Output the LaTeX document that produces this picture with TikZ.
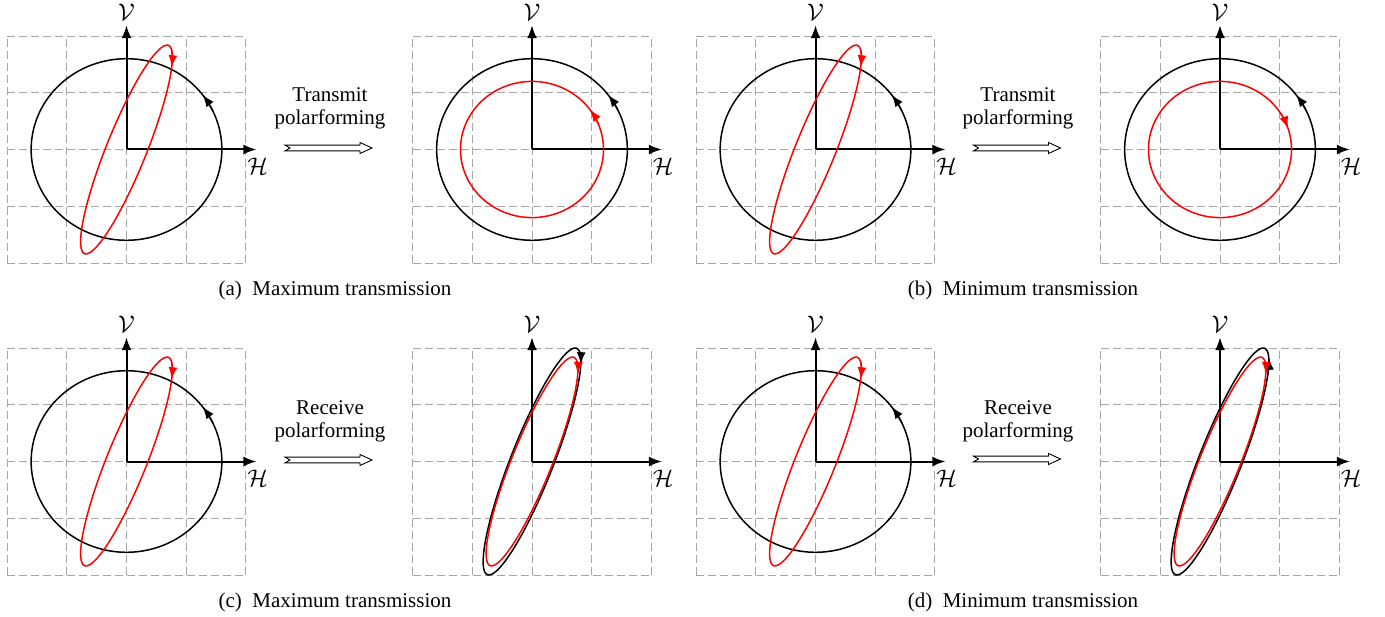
\documentclass[tikz,border=0pt]{standalone}
\usepackage{fontspec}
\setmainfont{Liberation Serif}
\usetikzlibrary{arrows.meta}
\tikzset{
  gridline/.style={gray!70, dash pattern=on 4pt off 2pt, line width=0.45pt},
  axisline/.style={line width=1pt, -{Latex[length=6.5pt,width=5pt]}},
  curve/.style={line width=0.75pt},
  tipc/.style={line width=0.75pt, -{Latex[length=6pt,width=4.5pt]}},
  axlabel/.style={inner sep=0pt, font=\fontsize{11.5}{13}\selectfont},
  txt/.style={inner sep=0pt, anchor=base, font=\fontsize{10.5}{12.6}\selectfont},
  hollow/.style={line width=0.45pt, fill=white},
  panel/.style={x=29.8pt, y=28.375pt},
}
\newcommand{\pgrid}[1]{%
  \foreach \i in {-2,...,2} {%
    \draw[gridline] (\i,-2) -- (\i,2);
    \draw[gridline] (-2,\i) -- (2,\i);
  }
  \coordinate (#1o) at (0,0);
  \coordinate (#1h) at (2.18,0);
  \coordinate (#1v) at (0,2.19);
  \draw[axisline] (#1o) -- (#1h);
  \draw[axisline] (#1o) -- (#1v);
  \node[axlabel] (#1V) at (0,2.41) {$\mathcal{V}$};
  \node[axlabel] (#1H) at (2.2,-0.29) {$\mathcal{H}$};
}
% black circle with counter-clockwise arrow
\newcommand{\bcircle}{%
  \draw[curve] plot[smooth cycle, domain=0:355, samples=72] ({1.6*cos(\x)},{1.6*sin(\x)});
  \draw[tipc] plot[domain=25:37, samples=7] ({1.6*cos(\x)},{1.6*sin(\x)});
}
% red tilted ellipse with arrow
\newcommand{\rellipse}[2]{%
  \draw[curve, red] plot[smooth cycle, domain=0:355, samples=72] ({0.77*cos(\x)},{1.84*cos(\x+28)});
  \draw[tipc, red] plot[domain=#1:#2, samples=8] ({0.77*cos(\x)},{1.84*cos(\x+28)});
}
\newcommand{\hollowarrow}[2]{%
  \begin{scope}[shift={(#1,#2)}]
    \draw[hollow] (-21.75,1.45) -- (15.75,1.45) -- (15.75,2.75) -- (21.75,0) -- (15.75,-2.75)
      -- (15.75,-1.45) -- (-21.75,-1.45) -- (-19.25,0) -- cycle;
  \end{scope}
}
\begin{document}
\begin{tikzpicture}[x=1pt,y=1pt]
\useasboundingbox (0,0) rectangle (692.5,308);

% ---------- row 1 ----------
\begin{scope}[shift={(63.25pt,233.25pt)}, panel]
  \pgrid{pa}
  \bcircle
  \rellipse{-10}{10}
\end{scope}
\begin{scope}[shift={(266pt,233.25pt)}, panel]
  \pgrid{pb}
  \bcircle
  \draw[curve, red] plot[smooth cycle, domain=0:355, samples=72] ({1.2*cos(\x)},{1.2*sin(\x)});
  \draw[tipc, red] plot[domain=22:36, samples=8] ({1.2*cos(\x)},{1.2*sin(\x)});
\end{scope}
\begin{scope}[shift={(407.75pt,233.25pt)}, panel]
  \pgrid{pc}
  \bcircle
  \rellipse{-10}{10}
\end{scope}
\begin{scope}[shift={(610pt,233.25pt)}, panel]
  \pgrid{pd}
  \bcircle
  \draw[curve, red] plot[smooth cycle, domain=0:355, samples=72] ({1.2*cos(\x)},{1.2*sin(\x)});
  \draw[tipc, red] plot[domain=-32:-18, samples=8] ({1.2*cos(-\x)},{1.2*sin(-\x)});
\end{scope}

% ---------- row 2 ----------
\begin{scope}[shift={(63.25pt,77.25pt)}, panel]
  \pgrid{pe}
  \bcircle
  \rellipse{-10}{10}
\end{scope}
\begin{scope}[shift={(266pt,77.25pt)}, panel]
  \pgrid{pf}
  \draw[curve] plot[smooth cycle, domain=0:355, samples=72] ({0.82*cos(\x)},{2.0*cos(\x+28)});
  \draw[tipc] plot[domain=-14:3, samples=9] ({0.82*cos(\x)},{2.0*cos(\x+28)});
  \rellipse{-12}{5}
\end{scope}
\begin{scope}[shift={(407.75pt,77.25pt)}, panel]
  \pgrid{pg}
  \bcircle
  \rellipse{-10}{10}
\end{scope}
\begin{scope}[shift={(610pt,77.25pt)}, panel]
  \pgrid{ph}
  \draw[curve] plot[smooth cycle, domain=0:355, samples=72] ({0.82*cos(\x)},{2.0*cos(\x+28)});
  \draw[tipc] plot[domain=-12:4, samples=9] ({0.82*cos(-\x)},{2.0*cos(-\x+28)});
  \rellipse{-12}{5}
\end{scope}

% ---------- arrows and texts ----------
\hollowarrow{164.25}{234}
\hollowarrow{508.5}{234}
\hollowarrow{164.25}{78}
\hollowarrow{508.5}{78.5}

\node[txt] (t1a) at (165,257) {Transmit};
\node[txt] (t1b) at (165,245.5) {polarforming};
\node[txt] (t2a) at (509,257) {Transmit};
\node[txt] (t2b) at (509,245.5) {polarforming};
\node[txt] (t3a) at (165,101) {Receive};
\node[txt] (t3b) at (165,89.5) {polarforming};
\node[txt] (t4a) at (509,101) {Receive};
\node[txt] (t4b) at (509,89.5) {polarforming};

\node[txt] (ca) at (167.5,160) {(a)\enspace Maximum transmission};
\node[txt] (cb) at (511.5,160) {(b)\enspace Minimum transmission};
\node[txt] (cc) at (167.5,4.5) {(c)\enspace Maximum transmission};
\node[txt] (cd) at (511.5,4.5) {(d)\enspace Minimum transmission};
\end{tikzpicture}
\end{document}
